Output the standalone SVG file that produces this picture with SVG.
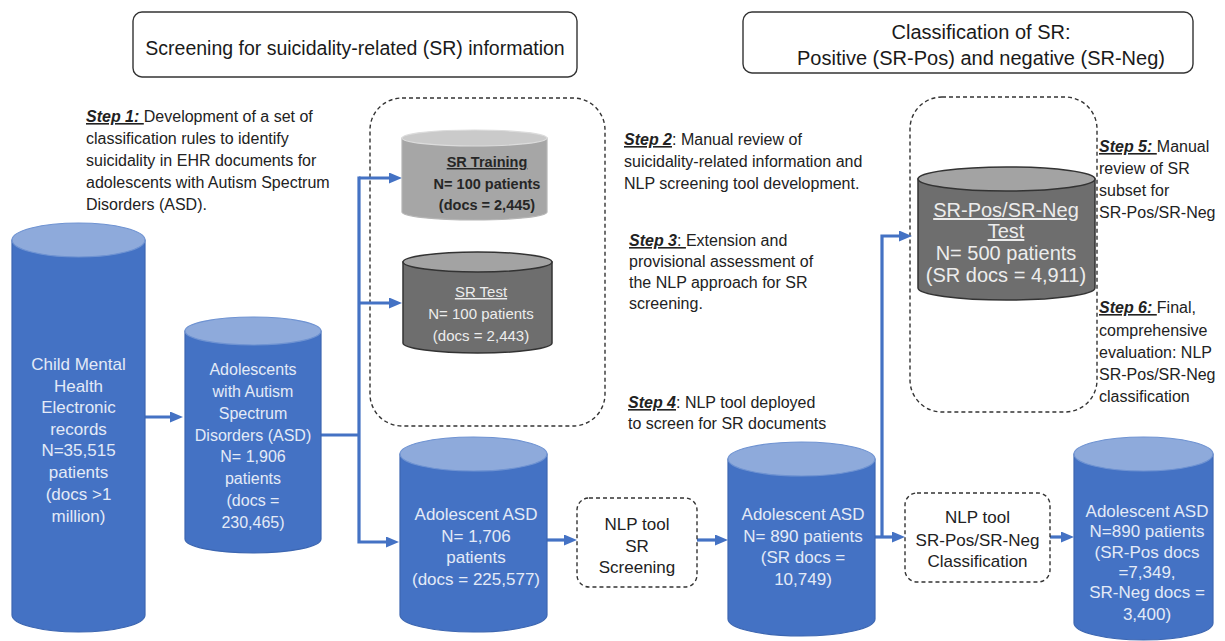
<svg xmlns="http://www.w3.org/2000/svg" width="1225" height="641" viewBox="0 0 1225 641">
<style>
text{font-family:"Liberation Sans",Arial,sans-serif;}
.hdr{fill:#fff;stroke:#333;stroke-width:1.4;}
.ht{font-size:19.5px;fill:#1a1a1a;text-anchor:middle;}
.ht2{font-size:20px;fill:#1a1a1a;text-anchor:middle;}
.dash{fill:none;stroke:#333;stroke-width:1.4;stroke-dasharray:4 3;}
.step{font-size:16px;fill:#222;}
.sl{font-weight:bold;font-style:italic;text-decoration:underline;}
.bbody{fill:#4472c4;stroke:#3c66b1;stroke-width:1.2;}
.btop{fill:#8eaadb;stroke:#6f93d2;stroke-width:1.2;}
.bt{fill:#e3eaf7;text-anchor:middle;}
.gbody{fill:#a6a6a6;stroke:#b5b5b5;stroke-width:1.2;}
.gtop{fill:#cacaca;stroke:#dcdcdc;stroke-width:1.2;}
.dbody{fill:#6e6e6e;stroke:#333;stroke-width:1.5;}
.dtop{fill:#a3a3a3;stroke:#333;stroke-width:1.5;}
.dt{fill:#ececec;text-anchor:middle;}
.nt{font-size:17px;fill:#222;text-anchor:middle;}
.u{text-decoration:underline;}
.conn{fill:none;stroke:#4472c4;stroke-width:3.2;}
</style>
<defs>
<marker id="ah" markerUnits="userSpaceOnUse" markerWidth="13" markerHeight="11" refX="8" refY="5.5" orient="auto">
<path d="M0,0 L13,5.5 L0,11 z" fill="#4472c4"/>
</marker>
</defs>

<g id="header-screening">
<rect class="hdr" x="133" y="12" width="444" height="65" rx="9"/>
<text class="ht" x="355" y="55">Screening for suicidality-related (SR) information</text>
</g>
<g id="header-classification">
<rect class="hdr" x="743" y="12" width="450" height="61" rx="9"/>
<text class="ht2" x="981" y="39">Classification of SR:</text>
<text class="ht2" x="981" y="65">Positive (SR-Pos) and negative (SR-Neg)</text>
</g>

<g id="step1">
<text class="step" x="86" y="122"><tspan class="sl">Step 1: </tspan>Development of a set of</text>
<text class="step" x="86" y="144">classification rules to identify</text>
<text class="step" x="86" y="166">suicidality in EHR documents for</text>
<text class="step" x="86" y="188">adolescents with Autism Spectrum</text>
<text class="step" x="86" y="210">Disorders (ASD).</text>
</g>
<g id="step2">
<text class="step" x="624" y="145"><tspan class="sl">Step 2</tspan>: Manual review of</text>
<text class="step" x="624" y="167">suicidality-related information and</text>
<text class="step" x="624" y="189">NLP screening tool development.</text>
</g>
<g id="step3">
<text class="step" x="629" y="246"><tspan class="sl">Step 3</tspan><tspan text-decoration="underline">: </tspan>Extension and</text>
<text class="step" x="629" y="267">provisional assessment of</text>
<text class="step" x="629" y="288">the NLP approach for SR</text>
<text class="step" x="629" y="309">screening.</text>
</g>
<g id="step4">
<text class="step" x="628" y="408"><tspan class="sl">Step 4</tspan>: NLP tool deployed</text>
<text class="step" x="628" y="429">to screen for SR documents</text>
</g>
<g id="step5">
<text class="step" x="1099" y="152"><tspan class="sl">Step 5: </tspan>Manual</text>
<text class="step" x="1099" y="174">review of SR</text>
<text class="step" x="1099" y="196">subset for</text>
<text class="step" x="1099" y="218">SR-Pos/SR-Neg</text>
</g>
<g id="step6">
<text class="step" x="1099" y="313"><tspan class="sl">Step 6: </tspan>Final,</text>
<text class="step" x="1099" y="336">comprehensive</text>
<text class="step" x="1099" y="358">evaluation: NLP</text>
<text class="step" x="1099" y="380">SR-Pos/SR-Neg</text>
<text class="step" x="1099" y="402">classification</text>
</g>

<g id="dev-group">
<rect class="dash" x="370" y="98" width="235" height="328" rx="32"/>
</g>
<g id="class-test-group">
<rect class="dash" x="910" y="97" width="187" height="315" rx="32"/>
</g>

<g id="connectors">
<path class="conn" d="M145 417 H178" marker-end="url(#ah)"/>
<path class="conn" d="M321 435 H359"/>
<path class="conn" d="M359 178 H397" marker-end="url(#ah)"/>
<path class="conn" d="M359 303 H397" marker-end="url(#ah)"/>
<path class="conn" d="M359 176.5 V542 H394" marker-end="url(#ah)"/>
<path class="conn" d="M547 540 H572" marker-end="url(#ah)"/>
<path class="conn" d="M697 540 H723" marker-end="url(#ah)"/>
<path class="conn" d="M875 537 H900" marker-end="url(#ah)"/>
<path class="conn" d="M882 537 V236 H907" marker-end="url(#ah)"/>
<path class="conn" d="M1050 537 H1069" marker-end="url(#ah)"/>
</g>

<g id="ehr-records">
<path class="bbody" d="M12 240 V615 A66.5 17 0 0 0 145 615 V240 Z"/>
<ellipse class="btop" cx="78.5" cy="240" rx="66.5" ry="17"/>
<g class="bt" font-size="17px">
<text x="78.5" y="370">Child Mental</text>
<text x="78.5" y="392">Health</text>
<text x="78.5" y="413">Electronic</text>
<text x="78.5" y="435">records</text>
<text x="78.5" y="456">N=35,515</text>
<text x="78.5" y="478">patients</text>
<text x="78.5" y="500">(docs &gt;1</text>
<text x="78.5" y="522">million)</text>
</g>
</g>

<g id="asd-adolescents">
<path class="bbody" d="M185 331 V539 A68 14 0 0 0 321 539 V331 Z"/>
<ellipse class="btop" cx="253" cy="331" rx="68" ry="14"/>
<g class="bt" font-size="16px">
<text x="253" y="375">Adolescents</text>
<text x="253" y="397">with Autism</text>
<text x="253" y="419">Spectrum</text>
<text x="253" y="441">Disorders (ASD)</text>
<text x="253" y="462">N= 1,906</text>
<text x="253" y="484">patients</text>
<text x="253" y="506">(docs =</text>
<text x="253" y="528">230,465)</text>
</g>
</g>

<g id="sr-training">
<path class="gbody" d="M402 138 V212 A72.5 8 0 0 0 547 212 V138 Z"/>
<ellipse class="gtop" cx="474.5" cy="138" rx="72.5" ry="8"/>
<g font-size="14.5px" font-weight="bold" fill="#262626" text-anchor="middle">
<text x="487" y="167" class="u">SR Training</text>
<text x="487" y="189">N= 100 patients</text>
<text x="487" y="210">(docs = 2,445)</text>
</g>
</g>

<g id="sr-test">
<path class="dbody" d="M403 262 V343 A74.5 10 0 0 0 552 343 V262 Z"/>
<ellipse class="dtop" cx="477.5" cy="262" rx="74.5" ry="10"/>
<g class="dt" font-size="15px">
<text x="481" y="297" class="u">SR Test</text>
<text x="481" y="319">N= 100 patients</text>
<text x="481" y="341">(docs = 2,443)</text>
</g>
</g>

<g id="asd-1706">
<path class="bbody" d="M400 454 V615 A73.5 17 0 0 0 547 615 V454 Z"/>
<ellipse class="btop" cx="473.5" cy="454" rx="73.5" ry="17"/>
<g class="bt" font-size="17px">
<text x="476" y="520">Adolescent ASD</text>
<text x="476" y="542">N= 1,706</text>
<text x="476" y="563">patients</text>
<text x="476" y="585">(docs = 225,577)</text>
</g>
</g>

<g id="nlp-sr-screening">
<rect class="dash" x="577" y="498" width="120" height="89" rx="12"/>
<text class="nt" x="637" y="530">NLP tool</text>
<text class="nt" x="637" y="552">SR</text>
<text class="nt" x="637" y="573">Screening</text>
</g>

<g id="asd-890">
<path class="bbody" d="M728 459 V619 A73.5 17 0 0 0 875 619 V459 Z"/>
<ellipse class="btop" cx="801.5" cy="459" rx="73.5" ry="17"/>
<g class="bt" font-size="17px">
<text x="803" y="520">Adolescent ASD</text>
<text x="803" y="542">N= 890 patients</text>
<text x="803" y="563">(SR docs =</text>
<text x="803" y="585">10,749)</text>
</g>
</g>

<g id="sr-pos-neg-test">
<path class="dbody" d="M918 179 V288 A88.5 12 0 0 0 1095 288 V179 Z"/>
<ellipse class="dtop" cx="1006.5" cy="179" rx="88.5" ry="12"/>
<g class="dt" font-size="20px">
<text x="1006" y="217" class="u">SR-Pos/SR-Neg</text>
<text x="1006" y="238" class="u">Test</text>
<text x="1006" y="260">N= 500 patients</text>
<text x="1006" y="282">(SR docs = 4,911)</text>
</g>
</g>

<g id="nlp-classification">
<rect class="dash" x="905" y="493" width="145" height="89" rx="12"/>
<text class="nt" x="977.5" y="523">NLP tool</text>
<text class="nt" x="977.5" y="546">SR-Pos/SR-Neg</text>
<text class="nt" x="977.5" y="567">Classification</text>
</g>

<g id="asd-890-classified">
<path class="bbody" d="M1074 454 V623 A69.5 17 0 0 0 1213 623 V454 Z"/>
<ellipse class="btop" cx="1143.5" cy="454" rx="69.5" ry="17"/>
<g class="bt" font-size="17px">
<text x="1147" y="517">Adolescent ASD</text>
<text x="1147" y="537">N=890 patients</text>
<text x="1147" y="558">(SR-Pos docs</text>
<text x="1147" y="578">=7,349,</text>
<text x="1147" y="598">SR-Neg docs =</text>
<text x="1147" y="620">3,400)</text>
</g>
</g>
</svg>
